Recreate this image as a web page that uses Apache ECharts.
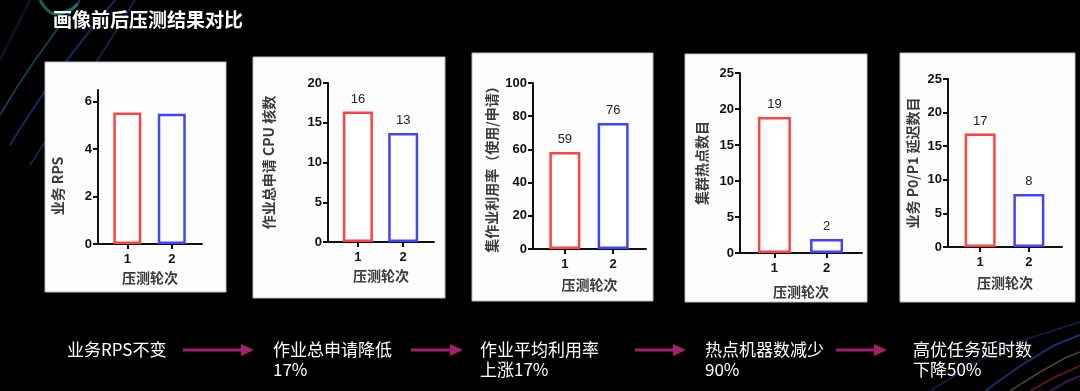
<!DOCTYPE html>
<html>
<head>
<meta charset="utf-8">
<script src="https://cdn.jsdelivr.net/npm/echarts@6/dist/echarts.min.js"></script>
<style>html,body{margin:0;padding:0;background:#000;}#c{width:1080px;height:391px;}</style>
</head>
<body>
<div id="c"></div>
<script>
// ---- data ----
const title = '画像前后压测结果对比';
const categories = [1, 2];
const xName = '压测轮次';
const yNames = ['业务 RPS', '作业总申请 CPU 核数', '集作业利用率（使用/申请）', '集群热点数目', '业务 P0/P1 延迟数目'];
const rpsValues = [5.55, 5.5];
const rpsLabels = ['', ''];
const cpuValues = [16.4, 13.7];
const cpuLabels = ['16', '13'];
const utilValues = [58.5, 75.9];
const utilLabels = ['59', '76'];
const hotValues = [18.9, 1.95];
const hotLabels = ['19', '2'];
const delayValues = [16.9, 7.9];
const delayLabels = ['17', '8'];
const yMax = [6.5, 20, 100, 25, 25];
const yTicks = [
  [0, 2, 4, 6],
  [0, 5, 10, 15, 20],
  [0, 20, 40, 60, 80, 100],
  [0, 5, 10, 15, 20, 25],
  [0, 5, 10, 15, 20, 25]
];
const captions = [
  ['业务RPS不变'],
  ['作业总申请降低', '17%'],
  ['作业平均利用率', '上涨17%'],
  ['热点机器数减少', '90%'],
  ['高优任务延时数', '下降50%']
];

// ---- layout / style ----
const seriesValues = [rpsValues, cpuValues, utilValues, hotValues, delayValues];
const seriesLabels = [rpsLabels, cpuLabels, utilLabels, hotLabels, delayLabels];
const barColors = ['#ff4242', '#4343ff'];
const panels = [
  {x: 45, y: 62, w: 181, h: 230},
  {x: 253, y: 57, w: 192, h: 241},
  {x: 472, y: 53, w: 181, h: 248},
  {x: 685, y: 54, w: 182, h: 248},
  {x: 900, y: 53, w: 175, h: 249}
];
const grids = [
  {left: 98, top: 90, width: 104, height: 154},
  {left: 328, top: 83, width: 106, height: 159},
  {left: 533, top: 83, width: 113, height: 166},
  {left: 740, top: 73, width: 122, height: 180},
  {left: 948, top: 79, width: 114, height: 168}
];
const barWidths = [28, 30, 31, 33, 31];
const xNameGaps = [27, 27, 29, 32, 29];
const yNameGaps = [33, 52, 34, 31, 28];
const yNamePad = [[0, 38, 0, 0], 0, 0, 0, 0];
const captionX = [67, 273, 480, 705, 913];
const arrows = [[183, 254], [411, 463], [635, 686], [836, 887]];
const arrowY = 350;

const CJK = '"Noto Sans CJK SC", "Noto Sans", sans-serif';
const LAT = '"Liberation Sans", Arial, sans-serif';

const xAxes = [], yAxes = [], series = [];
grids.forEach((g, i) => {
  xAxes.push({
    gridIndex: i, type: 'value', min: 0.34, max: 2.68,
    name: xName, nameLocation: 'middle', nameGap: xNameGaps[i],
    nameTextStyle: {fontFamily: CJK, fontSize: 14, color: '#3a3a3a', fontWeight: 'bold'},
    axisLine: {show: true, onZero: false, lineStyle: {color: '#111', width: 2}},
    axisTick: {show: true, length: 5, customValues: categories, lineStyle: {color: '#111', width: 2}},
    axisLabel: {customValues: categories, margin: 9, fontFamily: LAT, fontWeight: 'bold', fontSize: 13, color: '#111'},
    splitLine: {show: false}
  });
  yAxes.push({
    gridIndex: i, type: 'value', min: 0, max: yMax[i],
    name: yNames[i], nameLocation: 'middle', nameGap: yNameGaps[i], nameRotate: 90,
    nameTextStyle: {fontFamily: CJK, fontSize: 14, color: '#3a3a3a', fontWeight: 'bold', padding: yNamePad[i]},
    axisLine: {show: true, onZero: false, lineStyle: {color: '#111', width: 2}},
    axisTick: {show: true, length: 5, customValues: yTicks[i], lineStyle: {color: '#111', width: 2}},
    axisLabel: {customValues: yTicks[i], margin: 6, fontFamily: LAT, fontWeight: 'bold', fontSize: 13, color: '#111'},
    splitLine: {show: false}
  });
  const labels = seriesLabels[i];
  series.push({
    type: 'bar', xAxisIndex: i, yAxisIndex: i, barWidth: barWidths[i],
    data: categories.map((c, j) => ({
      value: [c, seriesValues[i][j]],
      itemStyle: {color: '#fff', borderColor: barColors[j], borderWidth: 2.5}
    })),
    label: {
      show: true, position: 'top', distance: 6,
      fontFamily: LAT, fontSize: 13, color: '#222',
      formatter: p => labels[p.dataIndex]
    },
    silent: true
  });
});

const graphics = [];
// decorative background streaks
const streaks = [
  {pts: [[0, 115], [35, 60], [80, 0]], c: '#1f6f8f', w: 2, o: 0.55, sm: 0.5},
  {pts: [[10, 145], [60, 70], [115, 0]], c: '#1e4fa8', w: 2, o: 0.55, sm: 0.5},
  {pts: [[30, 165], [85, 80], [135, 0]], c: '#2060c0', w: 1.5, o: 0.45, sm: 0.5},
  {pts: [[40, 0], [55, 14], [78, 4]], c: '#2fc0a0', w: 3, o: 0.5, sm: 0.5},
  {pts: [[0, 60], [15, 30], [30, 0]], c: '#163a70', w: 2, o: 0.45, sm: 0.5},
  {pts: [[930, 391], [980, 360], [1030, 338], [1080, 322]], c: '#1f3fa8', w: 1.5, o: 0.5, sm: 0},
  {pts: [[985, 391], [1020, 366], [1055, 345], [1080, 335]], c: '#3060d0', w: 2, o: 0.5, sm: 0},
  {pts: [[1010, 391], [1040, 372], [1065, 358], [1080, 352]], c: '#c0b050', w: 1.5, o: 0.4, sm: 0},
  {pts: [[1030, 391], [1055, 377], [1080, 366]], c: '#c03050', w: 2, o: 0.45, sm: 0},
  {pts: [[1050, 391], [1066, 382], [1080, 376]], c: '#8030c0', w: 2, o: 0.45, sm: 0}
];
streaks.forEach(s => graphics.push({
  type: 'polyline', z: -20, silent: true,
  shape: {points: s.pts, smooth: s.sm},
  style: {stroke: s.c, lineWidth: s.w, fill: null, opacity: s.o}
}));
panels.forEach(p => graphics.push({
  type: 'rect', z: -10, silent: true,
  shape: {x: p.x, y: p.y, width: p.w, height: p.h},
  style: {fill: '#fdfdfd', stroke: '#bdbdbd', lineWidth: 1}
}));
graphics.push({
  type: 'text', left: 53, top: 10,
  style: {text: title, fill: '#fff', font: 'bold 19px ' + CJK}
});
captions.forEach((c, i) => graphics.push({
  type: 'text', x: captionX[i], y: arrowY - 10,
  style: {text: c.join('\n'), fill: '#fff', font: '17px ' + CJK, lineHeight: 20, verticalAlign: 'top'}
}));
arrows.forEach(a => {
  graphics.push({
    type: 'line', shape: {x1: a[0], y1: arrowY, x2: a[1] - 10, y2: arrowY},
    style: {stroke: '#a3206f', lineWidth: 3}
  });
  graphics.push({
    type: 'polygon', shape: {points: [[a[1] - 13, arrowY - 6], [a[1], arrowY], [a[1] - 13, arrowY + 6]]},
    style: {fill: '#a3206f'}
  });
});

const chart = echarts.init(document.getElementById('c'), null, {renderer: 'canvas'});
chart.setOption({
  backgroundColor: '#000',
  animation: false,
  grid: grids.map(g => Object.assign({containLabel: false}, g)),
  xAxis: xAxes,
  yAxis: yAxes,
  series: series,
  graphic: graphics
});
</script>
</body>
</html>
